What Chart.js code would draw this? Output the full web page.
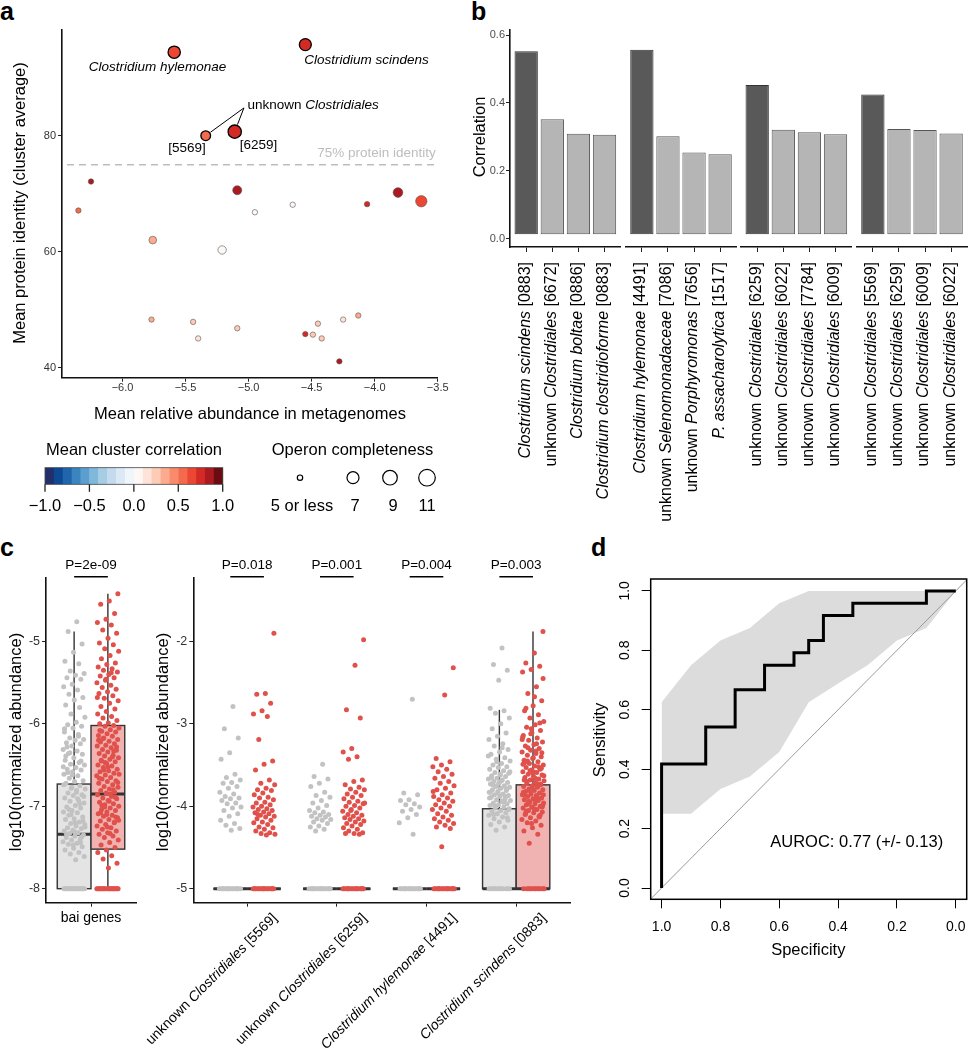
<!DOCTYPE html>
<html><head><meta charset="utf-8">
<script src="https://cdn.jsdelivr.net/npm/chart.js@4.4.1/dist/chart.umd.min.js"></script>
<style>
html,body{margin:0;padding:0;background:#fff;}
body{position:relative;width:968px;height:1050px;overflow:hidden;font-family:'Liberation Sans',Arial,sans-serif;}
canvas{position:absolute;}
.lab{position:absolute;font-weight:bold;font-size:25px;line-height:25px;color:#000;}
</style></head><body>
<div class="lab" style="left:0px;top:-1px">a</div>
<div class="lab" style="left:471px;top:-1px">b</div>
<div class="lab" style="left:0px;top:535px">c</div>
<div class="lab" style="left:591px;top:535px">d</div>
<script>
// ================= DATA =================
// ---- panel a ----
const aAbund    = [-5.59,-4.55,-5.34,-5.11,-6.25,-6.35,-5.09,-4.95,-4.65,-4.06,-3.815,-3.63,-5.76,-5.21,-5.77,-5.44,-5.40,-5.09,-4.55,-4.49,-4.45,-4.42,-4.25,-4.13,-4.28];
const aIdentity = [94.4,95.7,80.0,80.7,72.1,67.1,70.6,66.8,68.1,68.2,70.2,68.7,62.0,60.3,48.3,47.9,45.05,46.8,45.8,45.7,47.6,45.05,48.3,49.0,41.1];
const aCorr     = [0.65,0.75,0.55,0.75,0.82,0.55,0.86,0.02,0.03,0.72,0.86,0.66,0.35,0.0,0.38,0.22,0.12,0.2,0.7,0.25,0.28,0.22,0.13,0.3,0.82];
const aOperon   = [7.2,7.0,6.3,8.0,5,5,6.1,5,5,5,6.3,6.8,5.7,5.9,5,5,5,5,5,5,5,5,5,5,5];
const aXTicks = [-6.0,-5.5,-5.0,-4.5,-4.0,-3.5];
const aYTicks = [40,60,80];
const aIdentityCut = 75;
const corrTicks = [-1,-0.5,0,0.5,1];
const operonLegend = [5,7,9,11];
const operonLegendLabels = ['5 or less','7','9','11'];

// ---- panel b ----
const bLabels = [
  ['*Clostridium scindens* [0883]','unknown *Clostridiales* [6672]','*Clostridium boltae* [0886]','*Clostridium clostridioforme* [0883]'],
  ['*Clostridium hylemonae* [4491]','unknown *Selenomonadaceae* [7086]','unknown *Porphyromonas* [7656]','*P. assacharolytica* [1517]'],
  ['unknown *Clostridiales* [6259]','unknown *Clostridiales* [6022]','unknown *Clostridiales* [7784]','unknown *Clostridiales* [6009]'],
  ['unknown *Clostridiales* [5569]','unknown *Clostridiales* [6259]','unknown *Clostridiales* [6009]','unknown *Clostridiales* [6022]']
];
const bValues = [
  [0.552,0.352,0.309,0.306],
  [0.557,0.302,0.254,0.249],
  [0.453,0.321,0.314,0.308],
  [0.425,0.323,0.320,0.310]
];
const bBase = 0.013;
const bYTicks = [0,0.2,0.4,0.6];

// ---- panel c ----
const baiGray = [-4.76,-4.88,-5.03,-5.13,-5.24,-5.27,-5.36,-5.39,-5.41,-5.44,-5.46,-5.52,-5.55,-5.59,-5.64,-5.68,-5.71,-5.77,-5.80,-5.88,-5.92,-5.98,-6.01,-6.03,-6.05,-6.10,-6.13,-6.17,-6.19,-6.20,-6.23,-6.24,-6.27,-6.31,-6.33,-6.36,-6.37,-6.41,-6.44,-6.47,-6.49,-6.50,-6.53,-6.55,-6.56,-6.58,-6.61,-6.63,-6.66,-6.69,-6.70,-6.72,-6.75,-6.78,-6.79,-6.81,-6.84,-6.86,-6.87,-6.90,-6.93,-6.94,-6.96,-6.99,-7.01,-7.02,-7.05,-7.07,-7.08,-7.11,-7.13,-7.15,-7.16,-7.19,-7.21,-7.22,-7.24,-7.26,-7.27,-7.29,-7.30,-7.32,-7.33,-7.35,-7.36,-7.38,-7.40,-7.41,-7.43,-7.45,-7.46,-7.49,-7.51,-7.53,-7.56,-7.58,-7.61,-7.65,-6.28,-6.45,-6.62,-6.74,-6.91,-7.04,-7.18,-7.31,-6.39,-6.97,-7.10,-7.25,-6.83,-6.59,-7.37,-7.47,-6.06,-6.15,-6.35,-6.88,-7.20,-7.34,-7.44,-6.77,-6.52,
  -8,-8,-8,-8,-8,-8,-8,-8,-8,-8,-8,-8,-8,-8,-8,-8,-8,-8,-8,-8];
const baiRed = [-4.42,-4.51,-4.55,-4.66,-4.73,-4.77,-4.80,-4.86,-4.90,-4.96,-5.02,-5.04,-5.09,-5.12,-5.17,-5.21,-5.26,-5.28,-5.31,-5.33,-5.35,-5.37,-5.40,-5.42,-5.44,-5.47,-5.50,-5.53,-5.56,-5.58,-5.61,-5.63,-5.66,-5.69,-5.72,-5.75,-5.79,-5.82,-5.85,-5.88,-5.91,-5.93,-5.96,-5.99,-6.00,-6.02,-6.03,-6.05,-6.07,-6.09,-6.10,-6.12,-6.14,-6.15,-6.17,-6.19,-6.21,-6.22,-6.24,-6.26,-6.27,-6.29,-6.31,-6.32,-6.34,-6.36,-6.38,-6.39,-6.41,-6.43,-6.44,-6.46,-6.48,-6.50,-6.51,-6.53,-6.55,-6.57,-6.58,-6.60,-6.62,-6.63,-6.65,-6.67,-6.69,-6.70,-6.72,-6.74,-6.76,-6.77,-6.79,-6.81,-6.83,-6.84,-6.86,-6.88,-6.90,-6.91,-6.93,-6.95,-6.97,-6.98,-7.00,-7.02,-7.04,-7.05,-7.07,-7.09,-7.11,-7.12,-7.14,-7.16,-7.18,-7.20,-7.22,-7.24,-7.26,-7.28,-7.30,-7.32,-7.34,-7.36,-7.38,-7.41,-7.44,-7.47,-7.50,-7.53,-7.56,-7.60,-7.64,-7.69,-7.75,-6.08,-6.33,-6.47,-6.61,-6.85,-6.99,-7.13,-7.25,-6.20,-6.40,-6.56,-6.71,-6.94,-7.08,-7.19,-5.46,-5.68,-5.38,-6.18,-6.28,-6.52,-6.66,-6.80,-7.01,-7.17,-7.33,-6.45,-6.89,-7.10,
  -8,-8,-8,-8,-8,-8,-8,-8,-8,-8,-8,-8,-8,-8,-8,-8,-8,-8,-8,-8];
const baiBoxGray = [-8,-8,-7.34,-6.73,-4.88];   // [lower whisker, Q1, median, Q3, upper whisker]
const baiBoxRed  = [-8,-7.52,-6.85,-6.02,-4.42];
const baiPLabel = 'P=2e-09';

const cCategories = ['unknown *Clostridiales* [5569]','unknown *Clostridiales* [6259]','*Clostridium hylemonae* [4491]','*Clostridium scindens* [0883]'];
const cPLabels = ['P=0.018','P=0.001','P=0.004','P=0.003'];
const c1Gray = [-2.79,-3.06,-3.17,-3.35,-3.43,-3.61,-3.65,-3.68,-3.71,-3.72,-3.76,-3.78,-3.83,-3.85,-3.88,-3.90,-3.91,-3.93,-3.96,-3.97,-4.01,-4.02,-4.05,-4.09,-4.12,-4.17,-4.21,-4.23,-4.27,-4.29,
  -5,-5,-5,-5,-5,-5,-5,-5,-5,-5,-5,-5,-5,-5,-5,-5];
const c1Red = [-1.90,-2.63,-2.64,-2.75,-2.84,-2.88,-2.91,-3.19,-3.45,-3.49,-3.56,-3.68,-3.72,-3.74,-3.78,-3.80,-3.81,-3.84,-3.86,-3.89,-3.90,-3.92,-3.95,-3.96,-3.98,-4.00,-4.01,-4.03,-4.04,-4.05,-4.07,-4.08,-4.09,-4.11,-4.12,-4.13,-4.15,-4.17,-4.19,-4.20,-4.22,-4.25,-4.26,-4.28,-4.30,-4.32,-4.33,-4.34,-4.35,-4.10,
  -5,-5,-5,-5,-5,-5,-5,-5,-5,-5,-5,-5,-5,-5,-5,-5];
const c2Gray = [-3.49,-3.64,-3.67,-3.72,-3.76,-3.83,-3.87,-3.89,-3.93,-3.96,-3.99,-4.02,-4.05,-4.07,-4.08,-4.10,-4.11,-4.12,-4.13,-4.15,-4.16,-4.17,-4.19,-4.21,-4.24,-4.25,-4.28,-4.30,
  -5,-5,-5,-5,-5,-5,-5,-5,-5,-5,-5,-5,-5,-5,-5,-5];
const c2Red = [-1.98,-2.29,-2.83,-2.93,-3.30,-3.34,-3.40,-3.43,-3.68,-3.70,-3.74,-3.77,-3.79,-3.80,-3.83,-3.85,-3.87,-3.89,-3.91,-3.94,-3.95,-3.97,-3.99,-4.00,-4.02,-4.04,-4.06,-4.08,-4.10,-4.11,-4.12,-4.14,-4.15,-4.16,-4.18,-4.19,-4.21,-4.22,-4.24,-4.26,-4.28,-4.30,-4.32,-4.33,-4.33,-4.34,-4.05,-3.96,
  -5,-5,-5,-5,-5,-5,-5,-5,-5,-5,-5,-5,-5,-5,-5,-5];
const c3Gray = [-2.70,-3.84,-3.86,-3.92,-3.93,-3.97,-3.98,-4.01,-4.04,-4.06,-4.10,-4.14,-4.20,-4.34,
  -5,-5,-5,-5,-5,-5,-5,-5,-5,-5,-5,-5,-5,-5,-5,-5];
const c3Red = [-2.32,-2.65,-3.42,-3.46,-3.50,-3.52,-3.55,-3.58,-3.61,-3.64,-3.66,-3.70,-3.72,-3.75,-3.78,-3.80,-3.84,-3.86,-3.88,-3.90,-3.92,-3.94,-3.96,-3.98,-4.00,-4.02,-4.04,-4.06,-4.09,-4.11,-4.13,-4.15,-4.17,-4.19,-4.21,-4.23,-4.25,-4.27,-4.49,-3.82,
  -5,-5,-5,-5,-5,-5,-5,-5,-5,-5,-5,-5,-5,-5,-5,-5];
const c4Gray = [-2.08,-2.28,-2.35,-2.47,-2.81,-2.84,-2.87,-2.93,-3.00,-3.06,-3.11,-3.15,-3.19,-3.24,-3.27,-3.31,-3.34,-3.37,-3.41,-3.43,-3.45,-3.48,-3.50,-3.52,-3.53,-3.55,-3.57,-3.59,-3.60,-3.62,-3.63,-3.64,-3.66,-3.67,-3.68,-3.70,-3.71,-3.72,-3.73,-3.75,-3.76,-3.77,-3.78,-3.80,-3.81,-3.82,-3.83,-3.85,-3.86,-3.87,-3.88,-3.89,-3.91,-3.92,-3.93,-3.94,-3.96,-3.97,-3.98,-3.99,-4.01,-4.02,-4.03,-4.05,-4.06,-4.08,-4.09,-4.11,-4.13,-4.15,-4.17,-4.19,-4.22,-4.25,-4.29,-3.58,-3.69,-3.74,-3.79,-3.84,-3.90,-3.95,-4.00,-4.04,-3.61,-3.65,-3.88,-3.46,-3.39,-3.29,-4.10,-4.14,-3.72,-3.83,-3.93,
  -5,-5,-5,-5,-5,-5,-5,-5,-5,-5,-5,-5];
const c4Red = [-1.88,-2.14,-2.26,-2.30,-2.34,-2.37,-2.55,-2.63,-2.72,-2.78,-2.84,-2.89,-2.93,-2.97,-3.01,-3.04,-3.08,-3.11,-3.14,-3.17,-3.20,-3.22,-3.25,-3.27,-3.30,-3.32,-3.34,-3.36,-3.38,-3.40,-3.42,-3.44,-3.46,-3.48,-3.50,-3.51,-3.53,-3.55,-3.56,-3.58,-3.59,-3.61,-3.62,-3.64,-3.65,-3.67,-3.68,-3.69,-3.71,-3.72,-3.73,-3.75,-3.76,-3.77,-3.79,-3.80,-3.81,-3.82,-3.84,-3.85,-3.86,-3.87,-3.88,-3.90,-3.91,-3.92,-3.93,-3.95,-3.96,-3.97,-3.98,-4.00,-4.01,-4.02,-4.04,-4.05,-4.07,-4.08,-4.10,-4.12,-4.14,-4.16,-4.18,-4.20,-4.23,-4.26,-4.30,-4.34,-4.45,-2.45,-2.67,-2.81,-2.99,-3.06,-3.16,-3.24,-3.29,-3.35,-3.41,-3.47,-3.52,-3.57,-3.63,-3.66,-3.70,-3.74,-3.78,-3.83,-3.89,-3.94,-3.99,-4.03,-4.09,-4.13,-3.12,-3.19,-3.33,-3.45,-3.54,-3.60,-3.68,-3.73,-3.81,-3.86,-3.92,-4.06,-4.11,-4.21,-3.49,-3.76,-3.97,-4.01,-3.58,-3.87,
  -5,-5,-5,-5,-5,-5,-5,-5,-5,-5,-5,-5];
const rightGray = [c1Gray,c2Gray,c3Gray,c4Gray];
const rightRed  = [c1Red,c2Red,c3Red,c4Red];
const rightBoxGray = [[-5,-5,-5,-5,-5],[-5,-5,-5,-5,-5],[-5,-5,-5,-5,-5],[-5,-5,-5,-4.03,-2.83]];
const rightBoxRed  = [[-5,-5,-5,-5,-5],[-5,-5,-5,-5,-5],[-5,-5,-5,-5,-5],[-5,-5,-5,-3.74,-1.88]];
const cLeftYTicks = [-8,-7,-6,-5];
const cRightYTicks = [-5,-4,-3,-2];

// ---- panel d ----
const rocSpec = [1,1,0.85,0.85,0.75,0.75,0.65,0.65,0.55,0.55,0.5,0.5,0.45,0.45,0.35,0.35,0.1,0.1,0];
const rocSens = [0,0.417,0.417,0.542,0.542,0.667,0.667,0.75,0.75,0.792,0.792,0.833,0.833,0.917,0.917,0.958,0.958,1,1];
const ciSpec  = [0,0.1,0.2,0.3,0.4,0.5,0.6,0.7,0.8,0.9,1.0];
const ciUpper = [1,1,1,1,1,1,0.958,0.875,0.833,0.75,0.625];
const ciLower = [1,0.875,0.833,0.75,0.688,0.625,0.458,0.375,0.333,0.25,0.25];
const dXTicks = [0,0.2,0.4,0.6,0.8,1.0];
const dYTicks = [0,0.2,0.4,0.6,0.8,1.0];
const aurocText = 'AUROC: 0.77 (+/- 0.13)';

// ================= HELPERS =================
const FONT = "'Liberation Sans', Arial, Helvetica, sans-serif";
Chart.defaults.font.family = FONT;
Chart.defaults.animation = false;
Chart.defaults.responsive = false;
Chart.defaults.maintainAspectRatio = false;
Chart.defaults.plugins.legend.display = false;
Chart.defaults.plugins.tooltip.enabled = false;
Chart.defaults.events = [];

const PAL = ['#232f6b','#0d4a94','#2166ac','#3a84c0','#5a9fcf','#80b8db','#a6cde3','#c4daee','#dbe9f5','#eef5fb',
             '#fff7f4','#fee3d9','#fdcbb6','#fcab8f','#f98b6c','#f36a4c','#eb4733','#d42a25','#ab1a20','#6a0c12'];
function corrColor(v){ return PAL[Math.max(0,Math.min(19,Math.floor((v+1)*10+1e-9)))]; }
function opR(v){ const k=[[5,2.7],[7,6],[9,7.3],[11,8.3]]; if(v<=5) return 2.7;
  for(let i=1;i<k.length;i++){ if(v<=k[i][0]){ const a=k[i-1], b=k[i]; return a[1]+(v-a[0])/(b[0]-a[0])*(b[1]-a[1]); } } return 8.3; }
function fnt(size,it,bold){ return (it?'italic ':'')+(bold?'bold ':'')+size+'px '+FONT; }
function minus(s){ return String(s).replace('-','\u2212'); }
function segs(s){ return s.split('*').map((t,i)=>({t,it:i%2===1})).filter(o=>o.t.length); }
function richW(ctx,s,size){ let w=0; for(const g of segs(s)){ ctx.font=fnt(size,g.it); w+=ctx.measureText(g.t).width; } return w; }
function drawRich(ctx,s,x,y,size,align){ const W=richW(ctx,s,size); let cx = align==='right'?x-W:(align==='center'?x-W/2:x);
  ctx.textAlign='left'; for(const g of segs(s)){ ctx.font=fnt(size,g.it); ctx.fillText(g.t,cx,y); cx+=ctx.measureText(g.t).width; } }
function mk(r){ const c=document.createElement('canvas'); c.width=r.w; c.height=r.h; c.style.left=r.x+'px'; c.style.top=r.y+'px';
  c.style.width=r.w+'px'; c.style.height=r.h+'px'; document.body.appendChild(c); return c; }
function padFor(r,a,yW,xH){ return {left:a.l-r.x-yW, top:a.t-r.y, right:r.x+r.w-a.r, bottom:r.y+r.h-a.b-xH}; }
function ax(o){
  return {
    type:'linear', min:o.min, max:o.max, reverse:!!o.reverse, offset:false, display:true,
    grid:{display:true, offset:false, drawOnChartArea:false, drawTicks:true, tickLength:(o.tl??4), tickColor:(o.tc||'#222'), tickWidth:1},
    border:{display:o.border!==false, color:'#111', width:1.6},
    ticks:{display:o.labels!==false, font:{size:o.fs||11, family:FONT}, color:o.color||'#333', padding:(o.pad??1),
           maxRotation:0, minRotation:0, autoSkip:false, callback:o.cb||(v=>String(v))},
    afterBuildTicks:s=>{ s.ticks=o.ticks.map(v=>({value:v})); },
    afterFit:s=>{ if(o.size!=null){ if(s.isHorizontal()) s.height=o.size; else s.width=o.size; } }
  };
}
function jit(i){ return (((i+1)*0.6180339887)%1)*2-1; }
const JW = 0.125, BW = 0.375, PR = 2.5;

// ================= PANEL A =================
const rA={x:0,y:0,w:460,h:530}, arA={l:62,t:29.3,r:437.7,b:377.7};
const plugA = { id:'pa', afterDraw(ch){
  const c=ch.ctx, xs=ch.scales.x, ys=ch.scales.y, ca=ch.chartArea;
  const P=i=>[xs.getPixelForValue(aAbund[i]), ys.getPixelForValue(aIdentity[i])];
  c.save();
  const yy=ys.getPixelForValue(aIdentityCut);
  c.strokeStyle='#bdbdbd'; c.lineWidth=1.6; c.setLineDash([7,5]);
  c.beginPath(); c.moveTo(ca.left+5,yy); c.lineTo(ca.right,yy); c.stroke(); c.setLineDash([]);
  c.fillStyle='#bdbdbd'; c.font=fnt(13.5); c.textAlign='right'; c.textBaseline='middle';
  c.fillText('75% protein identity', ca.right-2, yy-11);
  c.fillStyle='#000'; c.textBaseline='middle';
  let p=P(0); drawRich(c,'*Clostridium hylemonae*',p[0]-16.7,p[1]+14.7,13.5,'center');
  p=P(1); drawRich(c,'*Clostridium scindens*',p[0]-1,p[1]+16,13.5,'left');
  const p2=P(2), p3=P(3);
  drawRich(c,'[5569]',p2[0]-18.7,p2[1]+12.3,13.5,'center');
  drawRich(c,'[6259]',p3[0]+23.7,p3[1]+13.3,13.5,'center');
  drawRich(c,'unknown *Clostridiales*',p3[0]+12.7,p3[1]-26.7,13.5,'left');
  const an=[p3[0]+9.2,p3[1]-23.7];
  c.strokeStyle='#000'; c.lineWidth=1;
  [[p2,opR(aOperon[2])],[p3,opR(aOperon[3])]].forEach(([q,r])=>{
    const dx=an[0]-q[0], dy=an[1]-q[1], d=Math.hypot(dx,dy);
    c.beginPath(); c.moveTo(an[0],an[1]); c.lineTo(q[0]+dx/d*(r+1), q[1]+dy/d*(r+1)); c.stroke();
  });
  c.fillStyle='#000'; c.font=fnt(16.5); c.textAlign='center'; c.textBaseline='middle';
  c.fillText('Mean relative abundance in metagenomes', 250, 414);
  c.save(); c.translate(20,203); c.rotate(-Math.PI/2); c.fillText('Mean protein identity (cluster average)',0,0); c.restore();
  const L=45,R=222.7,T=467.7,B=484.3, w=(R-L)/PAL.length;
  PAL.forEach((col,i)=>{ c.fillStyle=col; c.fillRect(L+i*w,T,w+0.4,B-T); });
  c.strokeStyle='#444'; c.lineWidth=0.8; c.strokeRect(L,T,R-L,B-T);
  c.strokeStyle='#222'; c.lineWidth=1.3; c.fillStyle='#000'; c.font=fnt(16.5);
  corrTicks.forEach(v=>{ const x=L+(v+1)/2*(R-L); c.beginPath(); c.moveTo(x,B); c.lineTo(x,B+7.5); c.stroke();
    c.fillText(minus(v.toFixed(1)), x, 506); });
  c.fillText('Mean cluster correlation', 134, 450);
  c.fillText('Operon completeness', 352.5, 450);
  const cxs=[300,353,390,427], lxs=[302,355,393,427];
  operonLegend.forEach((v,i)=>{ c.beginPath(); c.arc(cxs[i],477.7,opR(v),0,Math.PI*2); c.fillStyle='#fff'; c.fill();
    c.strokeStyle='#000'; c.lineWidth=1.2; c.stroke(); c.fillStyle='#000'; c.fillText(operonLegendLabels[i], lxs[i], 506); });
  c.restore();
}};
new Chart(mk(rA),{type:'scatter',
  data:{datasets:[{data:aAbund.map((v,i)=>({x:v,y:aIdentity[i]})),
    pointRadius:c=>opR(aOperon[c.dataIndex]), pointHoverRadius:c=>opR(aOperon[c.dataIndex]),
    pointBackgroundColor:c=>corrColor(aCorr[c.dataIndex]),
    pointBorderColor:c=>c.dataIndex<4?'#000':'#555', pointBorderWidth:c=>c.dataIndex<4?1.3:0.6}]},
  options:{layout:{padding:padFor(rA,arA,30,26)},
    scales:{ x:ax({min:-6.48,max:-3.5,ticks:aXTicks,cb:v=>minus(v.toFixed(1)),size:26,pad:0,fs:11}),
             y:ax({min:38.28,max:98.34,ticks:aYTicks,size:30,pad:2,fs:11}) }},
  plugins:[plugA]});

// ================= PANEL B =================
const bRects=[{x:460,y:0,w:164,h:560},{x:623,y:0,w:116,h:560},{x:738,y:0,w:116,h:560},{x:854,y:0,w:114,h:560}];
const bAreas=[{l:510,r:620.7},{l:625.7,r:736.3},{l:741,r:851.7},{l:856.7,r:967.3}];
bValues.forEach((vals,g)=>{
  const r=bRects[g], a={l:bAreas[g].l, r:bAreas[g].r, t:29.3, b:247};
  const yW = g===0?26:0;
  const plug={ id:'pb'+g, afterDraw(ch){
    const c=ch.ctx, xs=ch.scales.x; c.save(); c.fillStyle='#000'; c.textBaseline='middle';
    bLabels[g].forEach((lab,i)=>{ c.save(); c.translate(xs.getPixelForValue(i)-1, 262-r.y); c.rotate(-Math.PI/2);
      drawRich(c,lab,0,0,16,'right'); c.restore(); });
    if(g===0){ c.font=fnt(16.5); c.textAlign='center'; c.save(); c.translate(480.7-r.x,137); c.rotate(-Math.PI/2); c.fillText('Correlation',0,0); c.restore(); }
    c.restore(); }};
  new Chart(mk(r),{type:'bar',
    data:{datasets:[{data:vals.map((v,i)=>({x:i,y:v})), base:bBase,
      backgroundColor:vals.map((v,i)=>i===0?'#595959':'#b5b5b5'),
      borderColor:vals.map((v,i)=>i===0?'#333':'#555'),
      borderWidth:1, borderSkipped:false, barPercentage:0.893, categoryPercentage:1}]},
    options:{layout:{padding:padFor(r,a,yW,6)},
      scales:{ x:ax({min:-0.62,max:3.62,ticks:vals.map((v,i)=>i),labels:false,size:6,tl:5}),
               y: g===0 ? ax({min:-0.0245,max:0.617,ticks:bYTicks,cb:v=>v.toFixed(1),size:26,pad:1,fs:11,color:'#4d4d4d'})
                        : {type:'linear',min:-0.0245,max:0.617,display:false} }},
    plugins:[plug]});
});

// ================= PANEL C =================
function drawBox(c,xs,ys,cx,st,fill){
  const x0=xs.getPixelForValue(cx-BW/2), x1=xs.getPixelForValue(cx+BW/2), xm=xs.getPixelForValue(cx);
  const [lo,q1,md,q3,hi]=st.map(v=>ys.getPixelForValue(v));
  c.strokeStyle='#333'; c.lineWidth=1.4;
  c.beginPath(); c.moveTo(xm,q3); c.lineTo(xm,hi); c.moveTo(xm,q1); c.lineTo(xm,lo); c.stroke();
  c.fillStyle=fill; c.fillRect(x0,q3,x1-x0,q1-q3); c.strokeRect(x0,q3,x1-x0,q1-q3);
  c.lineWidth=3; c.beginPath(); c.moveTo(x0,md); c.lineTo(x1,md); c.stroke();
}
function pLabel(c,xs,top,cx,txt){
  const x0=xs.getPixelForValue(cx-BW/2), x1=xs.getPixelForValue(cx+BW/2);
  c.strokeStyle='#000'; c.lineWidth=1.5; c.beginPath(); c.moveTo(x0,top-1.3); c.lineTo(x1,top-1.3); c.stroke();
  c.fillStyle='#000'; c.font=fnt(13.5); c.textAlign='center'; c.textBaseline='middle'; c.fillText(txt,(x0+x1)/2,top-13);
}
const GRAY='#c2c2c2', RED='#e0514b', GRAYBOX='#e4e4e4', REDBOX='#f0b3b1';
const rCL={x:0,y:540,w:176,h:420}, arCL={l:46,t:578,r:136,b:902.7};
new Chart(mk(rCL),{type:'scatter',
  data:{datasets:[
    {data:baiGray.map((v,i)=>({x:1-BW/2+jit(i)*JW,y:v})), pointRadius:PR, pointBorderWidth:0, pointBackgroundColor:GRAY},
    {data:baiRed.map((v,i)=>({x:1+BW/2+jit(i+7)*JW,y:v})), pointRadius:PR, pointBorderWidth:0, pointBackgroundColor:RED}]},
  options:{layout:{padding:padFor(rCL,arCL,20,6)},
    scales:{ x:ax({min:0.5,max:1.5,ticks:[1],labels:false,size:6}),
             y:ax({min:-8.17,max:-4.23,ticks:cLeftYTicks,size:20,pad:2,fs:12.5}) }},
  plugins:[{id:'pcl', beforeDatasetsDraw(ch){ const c=ch.ctx; c.save();
      drawBox(c,ch.scales.x,ch.scales.y,1-BW/2,baiBoxGray,GRAYBOX); drawBox(c,ch.scales.x,ch.scales.y,1+BW/2,baiBoxRed,REDBOX); c.restore(); },
    afterDraw(ch){ const c=ch.ctx, xs=ch.scales.x; c.save();
      pLabel(c,xs,ch.chartArea.top,1,baiPLabel);
      c.font=fnt(14); c.fillStyle='#000'; c.textAlign='center'; c.textBaseline='middle';
      c.fillText('bai genes', xs.getPixelForValue(1), 918-rCL.y);
      c.font=fnt(16.5); c.save(); c.translate(16,742-rCL.y); c.rotate(-Math.PI/2); c.fillText('log10(normalized abundance)',0,0); c.restore();
      c.restore(); }}]});
const rCR={x:140,y:540,w:450,h:510}, arCR={l:193.3,t:578,r:570,b:902.7};
new Chart(mk(rCR),{type:'scatter',
  data:{datasets:[
    {data:rightGray.flatMap((arr,k)=>arr.map((v,i)=>({x:k+1-BW/2+jit(i)*JW,y:v}))), pointRadius:PR, pointBorderWidth:0, pointBackgroundColor:GRAY},
    {data:rightRed.flatMap((arr,k)=>arr.map((v,i)=>({x:k+1+BW/2+jit(i+7)*JW,y:v}))), pointRadius:PR, pointBorderWidth:0, pointBackgroundColor:RED}]},
  options:{layout:{padding:padFor(rCR,arCR,20,6)},
    scales:{ x:ax({min:0.4,max:4.6,ticks:[1,2,3,4],labels:false,size:6}),
             y:ax({min:-5.17,max:-1.23,ticks:cRightYTicks,size:20,pad:2,fs:12.5}) }},
  plugins:[{id:'pcr', beforeDatasetsDraw(ch){ const c=ch.ctx; c.save();
      rightBoxGray.forEach((st,k)=>drawBox(c,ch.scales.x,ch.scales.y,k+1-BW/2,st,GRAYBOX));
      rightBoxRed.forEach((st,k)=>drawBox(c,ch.scales.x,ch.scales.y,k+1+BW/2,st,REDBOX)); c.restore(); },
    afterDraw(ch){ const c=ch.ctx, xs=ch.scales.x; c.save();
      cPLabels.forEach((t,k)=>pLabel(c,xs,ch.chartArea.top,k+1,t));
      c.fillStyle='#000'; c.textBaseline='top';
      cCategories.forEach((lab,k)=>{ c.save(); c.translate(xs.getPixelForValue(k+1)+23, 911-rCR.y); c.rotate(-Math.PI/4);
        drawRich(c,lab,0,0,14,'right'); c.restore(); });
      c.font=fnt(16.5); c.textAlign='center'; c.textBaseline='middle';
      c.save(); c.translate(163.3-rCR.x,742-rCR.y); c.rotate(-Math.PI/2); c.fillText('log10(normalized abundance)',0,0); c.restore();
      c.restore(); }}]});

// ================= PANEL D =================
const rD={x:590,y:540,w:378,h:440}, arD={l:650.7,t:579,r:966.7,b:899.3};
const dXMin=-0.037, dXMax=1.037, dYMin=-0.038, dYMax=1.04;
new Chart(mk(rD),{type:'line',
  data:{datasets:[
    {data:rocSpec.map((x,i)=>({x,y:rocSens[i]})), borderColor:'#000', borderWidth:3, pointRadius:0, fill:false, tension:0, borderJoinStyle:'miter', borderCapStyle:'butt'},
    {data:[{x:dXMax,y:1-dXMax},{x:dXMin,y:1-dXMin}], borderColor:'#9a9a9a', borderWidth:1, pointRadius:0, fill:false},
    {data:ciSpec.map((x,i)=>({x,y:ciUpper[i]})), borderWidth:0, borderColor:'rgba(0,0,0,0)', pointRadius:0, fill:'+1', backgroundColor:'#dcdcdc', tension:0},
    {data:ciSpec.map((x,i)=>({x,y:ciLower[i]})), borderWidth:0, borderColor:'rgba(0,0,0,0)', pointRadius:0, fill:false, tension:0}]},
  options:{layout:{padding:padFor(rD,arD,9,36)},
    scales:{ x:ax({min:dXMin,max:dXMax,reverse:true,ticks:dXTicks,cb:v=>v.toFixed(1),tl:9,tc:'#000',pad:10,fs:14,color:'#000',border:false,size:36}),
             y:ax({min:dYMin,max:dYMax,ticks:dYTicks,labels:false,tl:9,tc:'#000',border:false,size:9}) }},
  plugins:[{id:'pd', afterDraw(ch){ const c=ch.ctx, ca=ch.chartArea, ys=ch.scales.y; c.save();
    c.strokeStyle='#000'; c.lineWidth=1.5; c.strokeRect(ca.left,ca.top,ca.right-ca.left,ca.bottom-ca.top);
    c.fillStyle='#000'; c.font=fnt(14); c.textAlign='center'; c.textBaseline='middle';
    dYTicks.forEach(v=>{ c.save(); c.translate(625-rD.x, ys.getPixelForValue(v)); c.rotate(-Math.PI/2); c.fillText(v.toFixed(1),0,0); c.restore(); });
    c.font=fnt(16.5);
    c.fillText('Specificity', 808.3-rD.x, 950-rD.y);
    c.save(); c.translate(600-rD.x,740-rD.y); c.rotate(-Math.PI/2); c.fillText('Sensitivity',0,0); c.restore();
    c.fillText(aurocText, 856.7-rD.x, 842.3-rD.y);
    c.restore(); }}]});
</script>
</body></html>
